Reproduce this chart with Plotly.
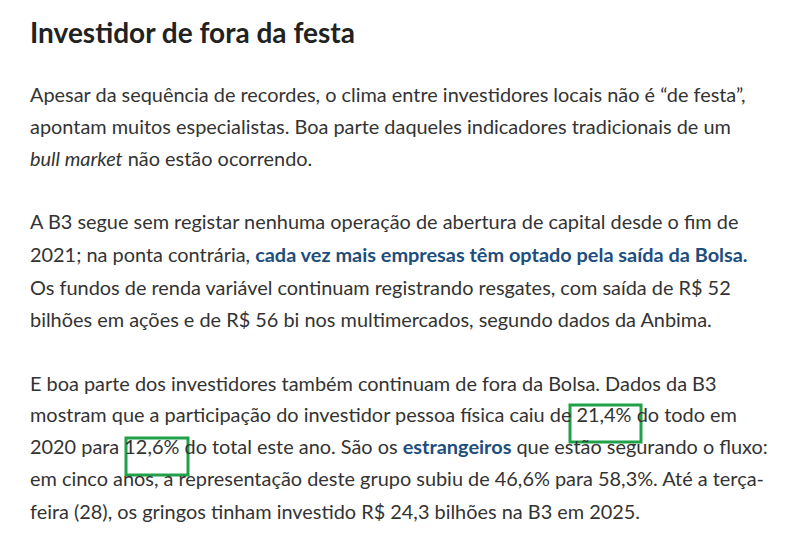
import plotly.graph_objects as go

TITLE = "Investidor de fora da festa"
LINK = '<span style="color:#1d4e7e"><b>{}</b></span>'

LINES = [
    "Apesar da sequência de recordes, o clima entre investidores locais não é “de festa”,",
    "apontam muitos especialistas. Boa parte daqueles indicadores tradicionais de um",
    "<i>bull market</i> não estão ocorrendo.",
    "A B3 segue sem registar nenhuma operação de abertura de capital desde o fim de",
    "2021; na ponta contrária, " + LINK.format("cada vez mais empresas têm optado pela saída da Bolsa."),
    "Os fundos de renda variável continuam registrando resgates, com saída de R$ 52",
    "bilhões em ações e de R$ 56 bi nos multimercados, segundo dados da Anbima.",
    "E boa parte dos investidores também continuam de fora da Bolsa. Dados da B3",
    "mostram que a participação do investidor pessoa física caiu de 21,4% do todo em",
    "2020 para 12,6% do total este ano. São os " + LINK.format("estrangeiros") + " que estão segurando o fluxo:",
    "em cinco anos, a representação deste grupo subiu de 46,6% para 58,3%. Até a terça-",
    "feira (28), os gringos tinham investido R$ 24,3 bilhões na B3 em 2025.",
]
LINE_Y = [95, 127, 159, 222, 255, 288, 320, 384, 415, 447, 479, 512]

# highlight boxes (x0, y0, x1, y1) around 21,4% and 12,6%
BOXES = [(562, 397, 633, 434), (118, 430, 180, 467)]

fig = go.Figure()
fig.add_annotation(x=20, y=24, text="<b>" + TITLE + "</b>", showarrow=False,
                   xanchor="left", yanchor="middle",
                   font=dict(size=28, color="#222222", family="Lato"))
for t, y in zip(LINES, LINE_Y):
    fig.add_annotation(x=20, y=y - 9, text=t, showarrow=False, xanchor="left",
                       yanchor="middle", font=dict(size=19.9, color="#333333", family="Lato"))
for x0, y0, x1, y1 in BOXES:
    fig.add_shape(type="rect", x0=x0, y0=y0, x1=x1, y1=y1,
                  line=dict(color="#21a04a", width=3))

fig.update_layout(
    width=785, height=534, margin=dict(l=0, r=0, t=0, b=0),
    paper_bgcolor="white", plot_bgcolor="white", showlegend=False,
    xaxis=dict(range=[0, 785], visible=False, fixedrange=True),
    yaxis=dict(range=[534, 0], visible=False, fixedrange=True),
)
fig.write_html("out.html")
